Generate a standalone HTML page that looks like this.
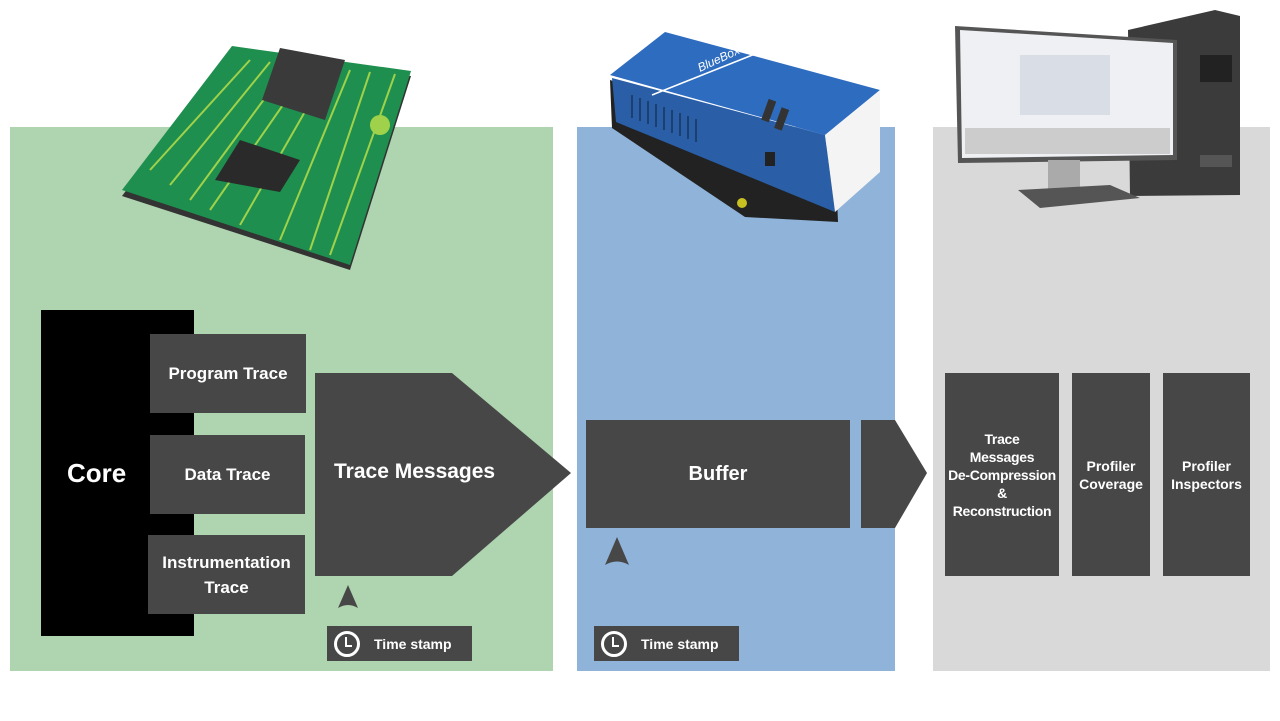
<!DOCTYPE html>
<html><head><meta charset="utf-8"><style>
html,body{margin:0;padding:0;background:#fff;}
body{width:1280px;height:721px;position:relative;overflow:hidden;font-family:"Liberation Sans",sans-serif;}
.a{position:absolute;}
.box{position:absolute;background:#474747;color:#fff;font-weight:bold;display:flex;align-items:center;justify-content:center;text-align:center;}
</style></head><body>
<div class="a" style="left:10px;top:127px;width:543px;height:544px;background:#afd4b0"></div>
<div class="a" style="left:577px;top:127px;width:318px;height:544px;background:#8fb3d9"></div>
<div class="a" style="left:933px;top:127px;width:337px;height:544px;background:#d9d9d9"></div>

<svg class="a" style="left:0;top:0" width="1280" height="721">
<!-- PCB -->
<polygon points="122,196 232,52 411,76 350,270" fill="#333"/>
<polygon points="122,190 232,46 411,71 350,265" fill="#1e8f4e"/>
<g stroke="#9fd24a" stroke-width="2" fill="none">
<line x1="150" y1="170" x2="250" y2="60"/><line x1="170" y1="185" x2="270" y2="62"/>
<line x1="190" y1="200" x2="290" y2="64"/><line x1="210" y1="210" x2="310" y2="66"/>
<line x1="240" y1="225" x2="330" y2="68"/><line x1="280" y1="240" x2="350" y2="70"/>
<line x1="310" y1="250" x2="370" y2="72"/><line x1="330" y1="255" x2="395" y2="74"/>
</g>
<circle cx="380" cy="125" r="10" fill="#9fd24a"/>
<polygon points="262,100 280,48 345,60 325,120" fill="#3a3a3a"/>
<polygon points="215,180 240,140 300,160 280,192" fill="#2a2a2a"/>
<!-- BlueBox -->
<polygon points="612,128 610,80 835,150 838,222 745,217" fill="#222"/>
<polygon points="612,78 825,135 835,212 616,122" fill="#2a5fa8"/>
<g stroke="#1d3f70" stroke-width="2">
<line x1="632" y1="95" x2="632" y2="118"/><line x1="640" y1="98" x2="640" y2="121"/><line x1="648" y1="101" x2="648" y2="124"/>
<line x1="656" y1="104" x2="656" y2="127"/><line x1="664" y1="107" x2="664" y2="130"/><line x1="672" y1="110" x2="672" y2="133"/>
<line x1="680" y1="113" x2="680" y2="136"/><line x1="688" y1="116" x2="688" y2="139"/><line x1="696" y1="119" x2="696" y2="142"/>
</g>
<polygon points="610,75 665,32 880,90 825,135" fill="#2e6cc0"/>
<polygon points="825,135 880,90 880,172 835,212" fill="#f4f4f4"/>
<text x="700" y="72" fill="#fff" font-size="12" font-style="italic" transform="rotate(-25 700 72)">BlueBox</text>
<line x1="652" y1="95" x2="760" y2="52" stroke="#fff" stroke-width="1.5"/>
<rect x="765" y="100" width="8" height="22" fill="#333" transform="rotate(20 770 110)"/>
<rect x="778" y="108" width="8" height="22" fill="#333" transform="rotate(20 782 118)"/>
<rect x="765" y="152" width="10" height="14" fill="#222"/>
<circle cx="742" cy="203" r="5" fill="#c8c020"/>
<!-- Computer -->
<polygon points="1128,30 1215,10 1240,16 1240,195 1130,196" fill="#3b3b3b"/>
<rect x="1200" y="55" width="32" height="27" fill="#222"/>
<rect x="1200" y="155" width="32" height="12" fill="#555"/>
<polygon points="955,26 1177,40 1177,160 958,163" fill="#555"/>
<polygon points="960,30 1173,43 1173,155 962,158" fill="#eef0f3"/>
<rect x="965" y="128" width="205" height="26" fill="#ccc"/>
<rect x="1020" y="55" width="90" height="60" fill="#d8dde6"/>
<rect x="1048" y="160" width="32" height="30" fill="#aaa"/>
<polygon points="1018,190 1110,185 1140,198 1040,208" fill="#555"/>
<!-- arrows -->
<polygon points="315,373 452,373 571,473 452,576 315,576" fill="#474747"/>
<polygon points="861,420 895,420 927,473 895,528 861,528" fill="#474747"/>
<path d="M348,585 L338,608 Q348,602 358,608 Z" fill="#474747"/>
<path d="M617,537 L605,565 Q617,558 629,565 Z" fill="#474747"/>
</svg>

<div class="box" style="left:41px;top:310px;width:153px;height:326px;background:#000;justify-content:flex-start;padding-left:26px;box-sizing:border-box;font-size:26px">Core</div>
<div class="box" style="left:150px;top:334px;width:156px;height:79px;font-size:17px">Program Trace</div>
<div class="box" style="left:150px;top:435px;width:155px;height:79px;font-size:17px">Data Trace</div>
<div class="box" style="left:148px;top:535px;width:157px;height:79px;font-size:17px;line-height:25px">Instrumentation<br>Trace</div>
<div class="a" style="left:334px;top:460px;color:#fff;font-weight:bold;font-size:21px">Trace Messages</div>
<div class="box" style="left:586px;top:420px;width:264px;height:108px;font-size:20px">Buffer</div>
<div class="box" style="left:945px;top:373px;width:114px;height:203px;font-size:14px;line-height:18px;letter-spacing:-0.3px">Trace<br>Messages<br>De-Compression<br>&amp;<br>Reconstruction</div>
<div class="box" style="left:1072px;top:373px;width:78px;height:203px;font-size:14px;line-height:18px">Profiler<br>Coverage</div>
<div class="box" style="left:1163px;top:373px;width:87px;height:203px;font-size:14px;line-height:18px">Profiler<br>Inspectors</div>

<div class="box" style="left:327px;top:626px;width:145px;height:35px;justify-content:flex-start;font-size:14px">
<span style="display:inline-block;width:20px;height:20px;border:3px solid #fff;border-radius:50%;margin:0 14px 0 7px;position:relative"><span style="position:absolute;left:8px;top:3px;width:5px;height:8px;border-left:2.5px solid #fff;border-bottom:2.5px solid #fff"></span></span>Time stamp</div>
<div class="box" style="left:594px;top:626px;width:145px;height:35px;justify-content:flex-start;font-size:14px">
<span style="display:inline-block;width:20px;height:20px;border:3px solid #fff;border-radius:50%;margin:0 14px 0 7px;position:relative"><span style="position:absolute;left:8px;top:3px;width:5px;height:8px;border-left:2.5px solid #fff;border-bottom:2.5px solid #fff"></span></span>Time stamp</div>
</body></html>
